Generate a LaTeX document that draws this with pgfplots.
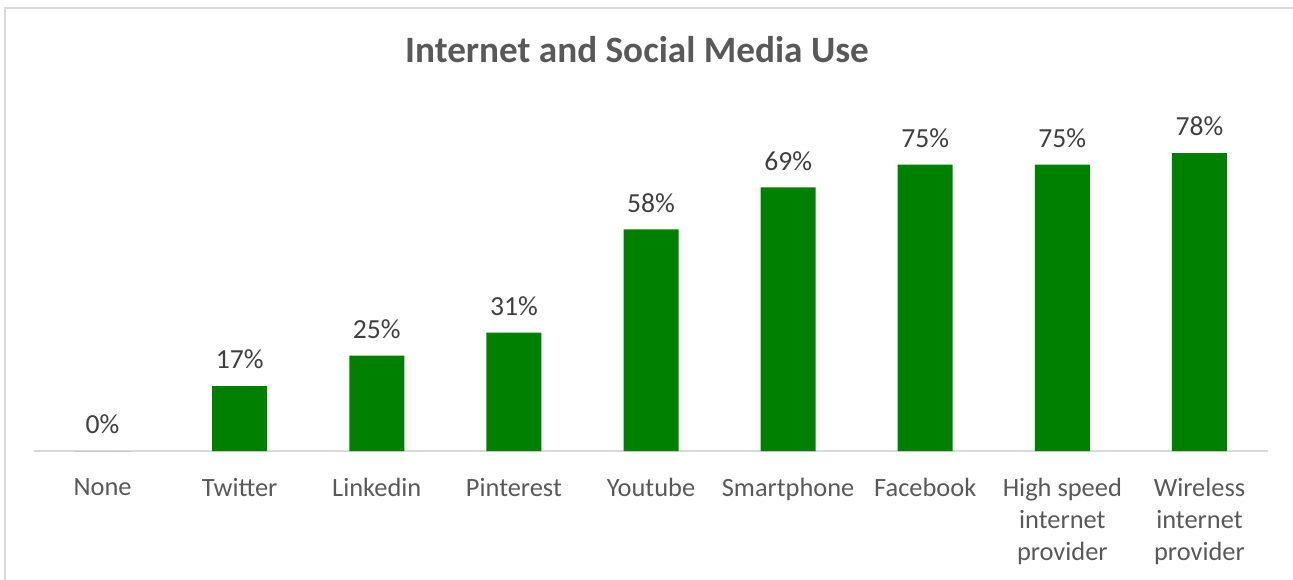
\documentclass[border=0pt]{standalone}
\usepackage{pgfplots}
\pgfplotsset{compat=1.18}
\usepackage{fontspec}
\setmainfont{Carlito}
\definecolor{txt}{HTML}{595959}
\definecolor{lbl}{HTML}{404040}
\definecolor{bargreen}{HTML}{008000}
\definecolor{frame}{HTML}{D9D9D9}
\begin{document}
\begin{tikzpicture}
\useasboundingbox (0,0) rectangle (646.5pt,289.5pt);
\draw[frame, line width=1.2pt] (2.4pt,-20pt) -- (2.4pt,285.6pt) -- (670pt,285.6pt);
\node[font=\fontsize{18.6}{22}\selectfont\bfseries, text=txt] at (318.5pt,264.5pt) {Internet and Social Media Use};
\begin{axis}[
  at={(17pt,64pt)}, anchor=south west,
  scale only axis, width=617pt, height=152.8pt,
  ymin=0, ymax=80, xmin=-0.5, xmax=8.5,
  axis y line=none, axis x line=bottom,
  x axis line style={-, frame, line width=1pt},
  xtick={0,...,8}, major tick length=0pt,
  xticklabels={None,Twitter,Linkedin,Pinterest,Youtube,Smartphone,Facebook,High speed\\internet\\provider,Wireless\\internet\\provider},
  xticklabel style={font=\fontsize{13.2}{16}\selectfont, text=txt, align=center, anchor=north, yshift=-10pt},
  ybar, bar width=27.5pt,
  /pgf/number format/assume math mode=true,
  nodes near coords={\pgfmathprintnumber{\pgfplotspointmeta}\%},
  nodes near coords style={font=\fontsize{13.8}{16}\selectfont, text=lbl, yshift=5pt},
  clip=false,
]
\addplot[fill=bargreen, draw=none] coordinates {(0,0) (1,17) (2,25) (3,31) (4,58) (5,69) (6,75) (7,75) (8,78)};
\end{axis}
\end{tikzpicture}
\end{document}
